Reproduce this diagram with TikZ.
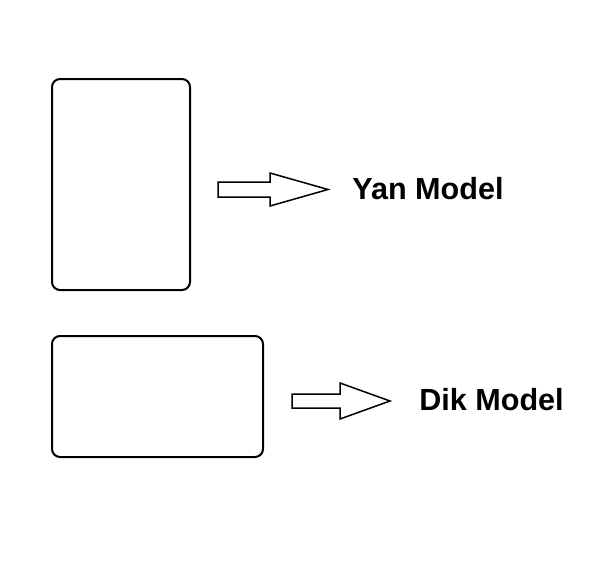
\documentclass[tikz,border=0pt]{standalone}
\usepackage{fontspec}
\setmainfont{Liberation Sans}
\usepackage{tikz}
\usetikzlibrary{positioning}

\tikzset{
  card/.style={black, line width=0.4mm, rounded corners=0.16cm},
  blockarrow/.style={black, line width=0.3mm, fill=white},
  modelname/.style={anchor=west, inner sep=0pt, font=\fontsize{17.4}{20}\selectfont\bfseries}
}

\begin{document}
\begin{tikzpicture}[x=0.02cm, y=-0.02cm]

\useasboundingbox (0,0) rectangle (592,575);

% cards
\draw[card] (52,79) rectangle (190,290);
\draw[card] (52,336) rectangle (263,457);

% arrows
\draw[blockarrow] (218,182)--++(52,0)--++(0,-9)--(328,189.5)--(270,206)--++(0,-9)--++(-52,0)--cycle;
\draw[blockarrow] (292,394)--++(48,0)--++(0,-11)--(390,401)--(340,419)--++(0,-11)--++(-48,0)--cycle;

% names
\node[modelname] (yan) at (352,189) {Yan Model};
\node[modelname] (dik) at (419,400) {Dik Model};

\end{tikzpicture}
\end{document}
